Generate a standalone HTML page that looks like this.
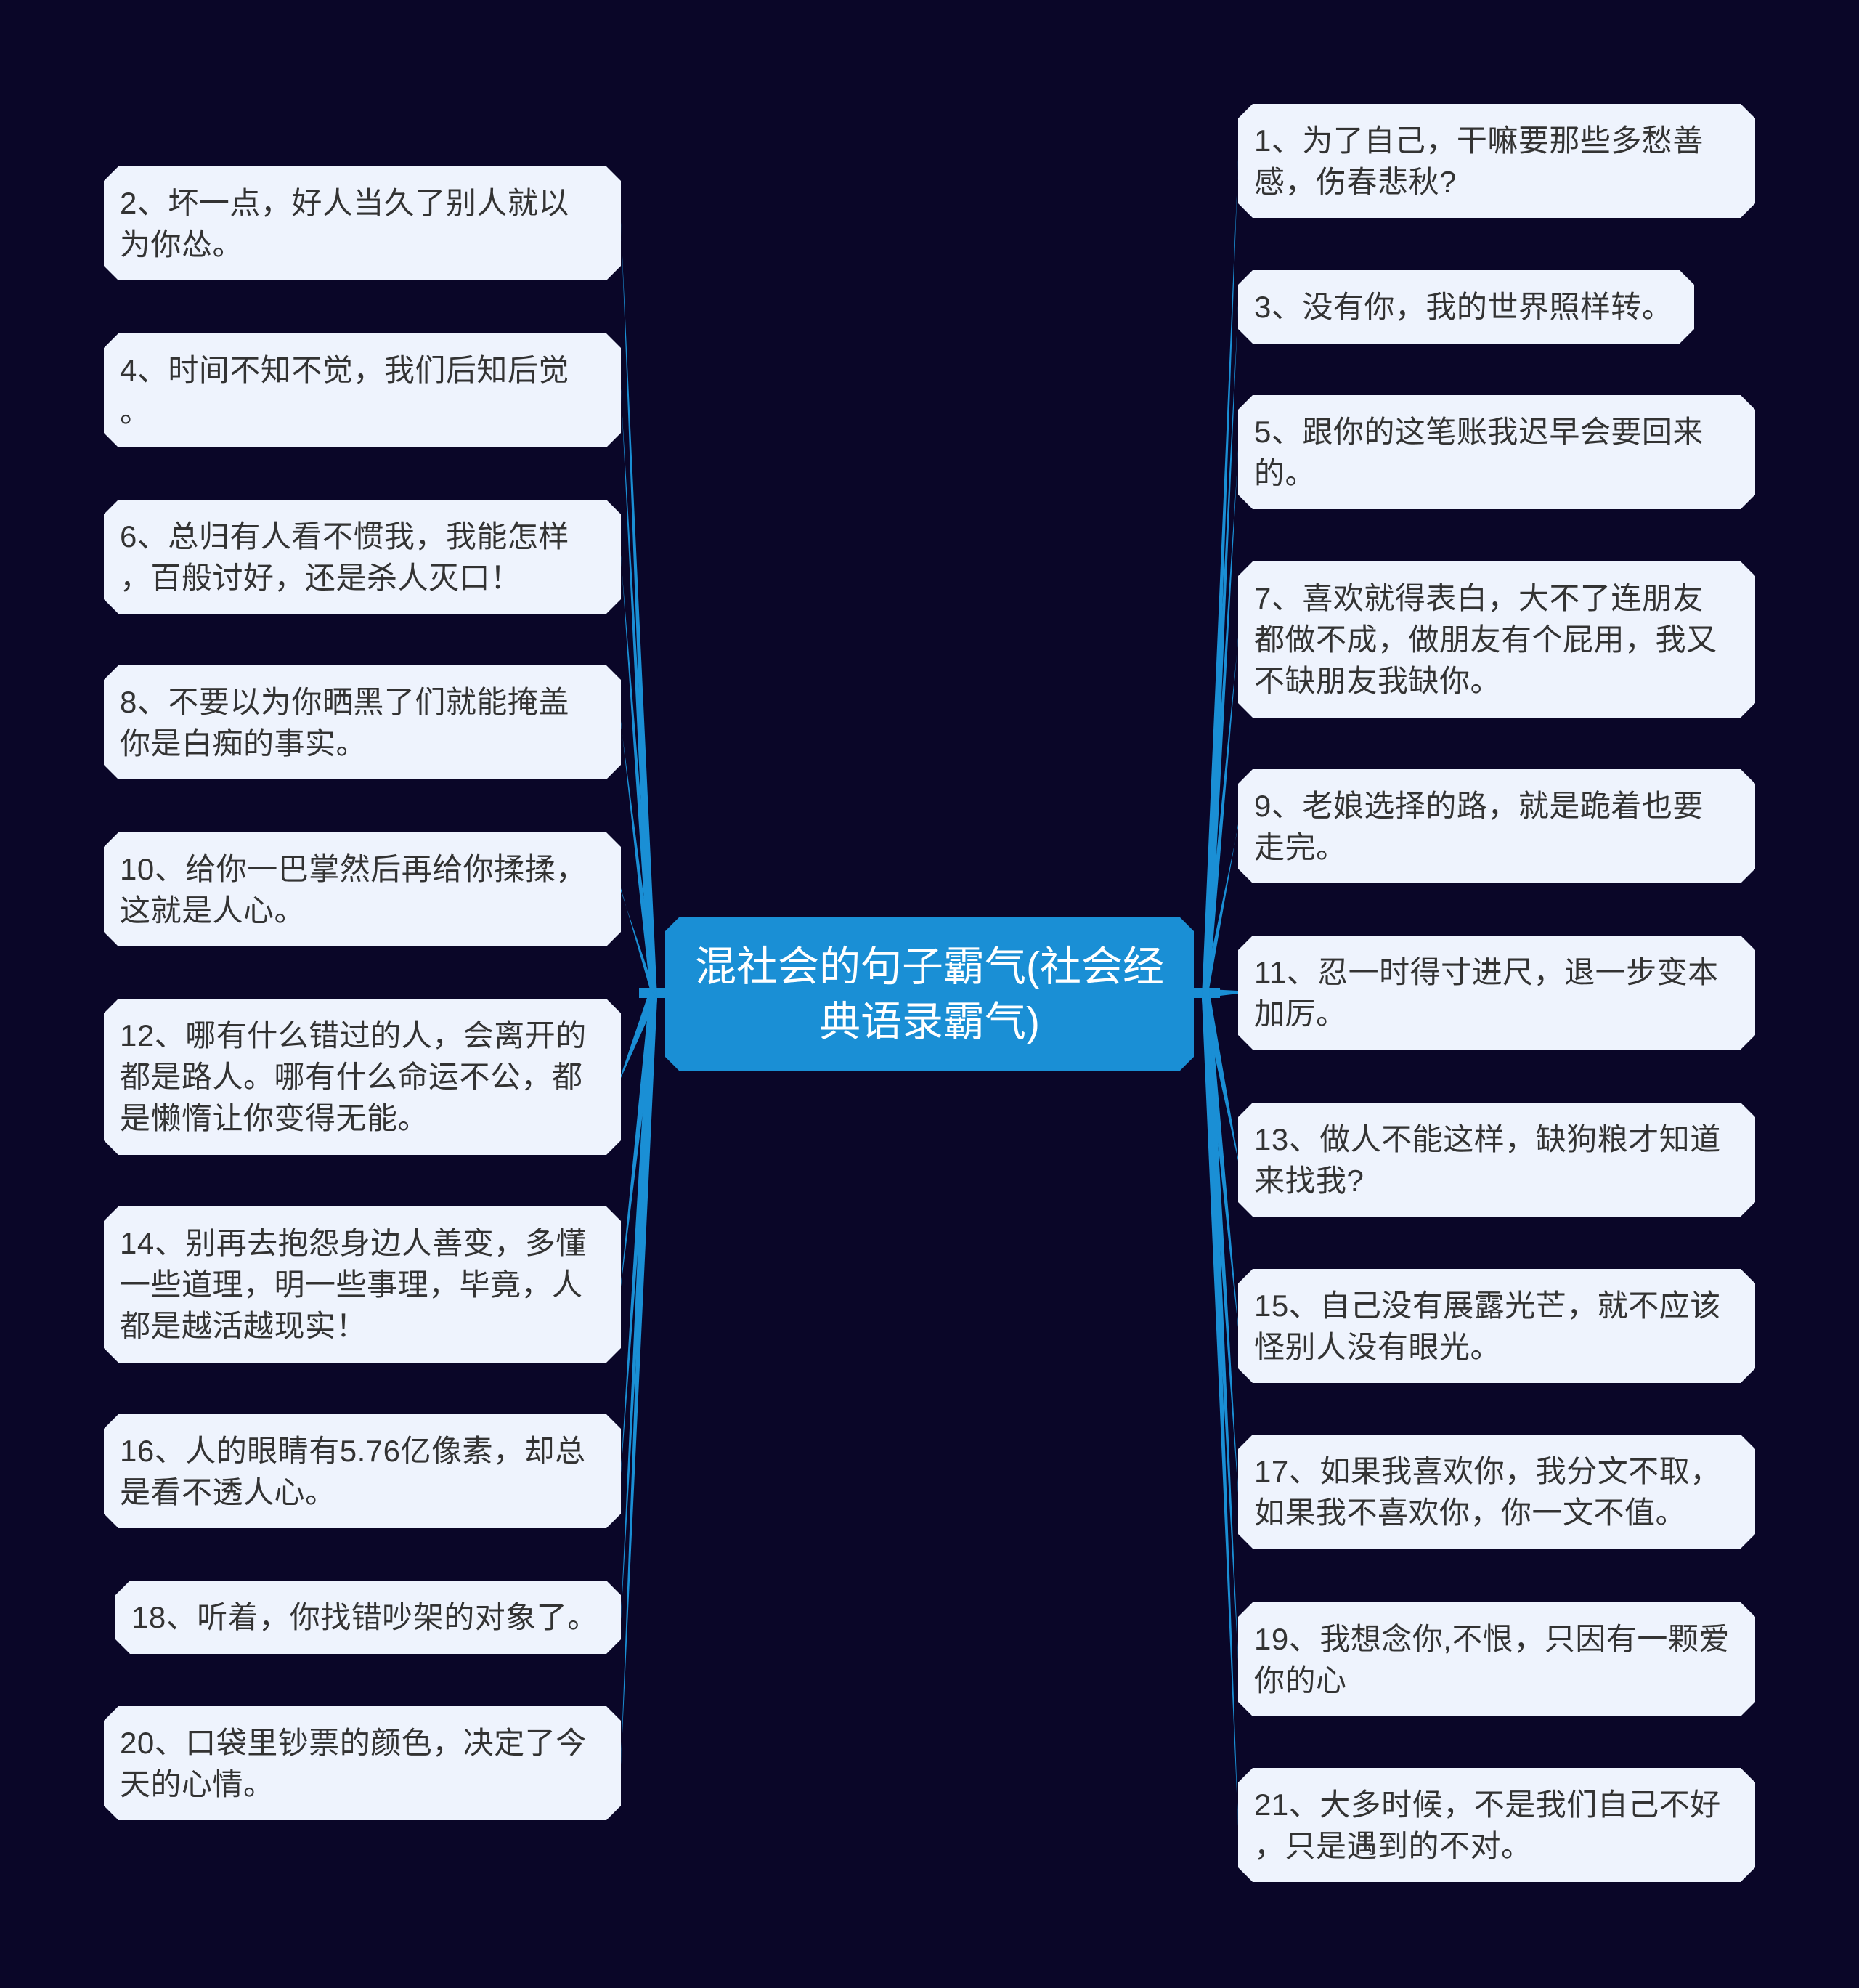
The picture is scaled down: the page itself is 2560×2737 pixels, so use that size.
<!DOCTYPE html>
<html><head><meta charset="utf-8"><style>
body{margin:0;width:2560px;height:2737px;background:#0a0628;position:relative;overflow:hidden;font-family:"Liberation Sans","Noto Sans CJK SC",sans-serif}
.n{position:absolute;background:#eef3fd;color:#333;font-size:42px;letter-spacing:0.5px;line-height:57px;display:flex;align-items:center;padding:0 22px;box-sizing:border-box;clip-path:polygon(20px 0,calc(100% - 20px) 0,100% 20px,100% calc(100% - 20px),calc(100% - 20px) 100%,20px 100%,0 calc(100% - 20px),0 20px)}
.L{left:143px;width:712px}.R{left:1705px;width:712px}
.c{position:absolute;left:916px;top:1262px;width:728px;height:213px;background:#1a8fd5;color:#fff;font-size:57px;line-height:76px;display:flex;align-items:center;justify-content:center;text-align:center;clip-path:polygon(20px 0,calc(100% - 20px) 0,100% 20px,100% calc(100% - 20px),calc(100% - 20px) 100%,20px 100%,0 calc(100% - 20px),0 20px)}
svg{position:absolute;left:0;top:0}
</style></head><body>
<svg width="2560" height="2737"><g fill="#1a8fd5">
<rect x="880" y="1360" width="40" height="14"/><rect x="1640" y="1360" width="40" height="14"/>
<polygon points="895,1362 855,306 855,310 905,1374"/>
<polygon points="895,1362 855,535 855,539 905,1374"/>
<polygon points="895,1362 855,764 855,768 905,1374"/>
<polygon points="895,1362 855,993 855,997 905,1374"/>
<polygon points="895,1362 855,1223 855,1227 905,1374"/>
<polygon points="895,1362 855,1480 855,1484 905,1374"/>
<polygon points="895,1362 855,1767 855,1771 905,1374"/>
<polygon points="895,1362 855,2024 855,2028 905,1374"/>
<polygon points="895,1362 855,2225 855,2229 905,1374"/>
<polygon points="895,1362 855,2425 855,2429 905,1374"/>
<polygon points="1665,1362 1705,219 1705,223 1655,1374"/>
<polygon points="1665,1362 1705,420 1705,424 1655,1374"/>
<polygon points="1665,1362 1705,620 1705,624 1655,1374"/>
<polygon points="1665,1362 1705,878 1705,882 1655,1374"/>
<polygon points="1665,1362 1705,1135 1705,1139 1655,1374"/>
<polygon points="1665,1362 1705,1364 1705,1368 1655,1374"/>
<polygon points="1665,1362 1705,1594 1705,1598 1655,1374"/>
<polygon points="1665,1362 1705,1823 1705,1827 1655,1374"/>
<polygon points="1665,1362 1705,2051 1705,2055 1655,1374"/>
<polygon points="1665,1362 1705,2282 1705,2286 1655,1374"/>
<polygon points="1665,1362 1705,2510 1705,2514 1655,1374"/>
</g></svg>
<div class="c">混社会的句子霸气(社会经<br>典语录霸气)</div>
<div class="n L" style="top:229px;height:157px">2、坏一点，好人当久了别人就以<br>为你怂。</div>
<div class="n L" style="top:459px;height:157px">4、时间不知不觉，我们后知后觉<br>。</div>
<div class="n L" style="top:688px;height:157px">6、总归有人看不惯我，我能怎样<br>，百般讨好，还是杀人灭口！</div>
<div class="n L" style="top:916px;height:157px">8、不要以为你晒黑了们就能掩盖<br>你是白痴的事实。</div>
<div class="n L" style="top:1146px;height:157px">10、给你一巴掌然后再给你揉揉，<br>这就是人心。</div>
<div class="n L" style="top:1375px;height:215px">12、哪有什么错过的人，会离开的<br>都是路人。哪有什么命运不公，都<br>是懒惰让你变得无能。</div>
<div class="n L" style="top:1661px;height:215px">14、别再去抱怨身边人善变，多懂<br>一些道理，明一些事理，毕竟，人<br>都是越活越现实！</div>
<div class="n L" style="top:1947px;height:157px">16、人的眼睛有5.76亿像素，却总<br>是看不透人心。</div>
<div class="n" style="left:159px;width:696px;top:2176px;height:101px">18、听着，你找错吵架的对象了。</div>
<div class="n L" style="top:2349px;height:157px">20、口袋里钞票的颜色，决定了今<br>天的心情。</div>
<div class="n R" style="top:143px;height:157px">1、为了自己，干嘛要那些多愁善<br>感，伤春悲秋?</div>
<div class="n" style="left:1705px;width:628px;top:372px;height:101px">3、没有你，我的世界照样转。</div>
<div class="n R" style="top:544px;height:157px">5、跟你的这笔账我迟早会要回来<br>的。</div>
<div class="n R" style="top:773px;height:215px">7、喜欢就得表白，大不了连朋友<br>都做不成，做朋友有个屁用，我又<br>不缺朋友我缺你。</div>
<div class="n R" style="top:1059px;height:157px">9、老娘选择的路，就是跪着也要<br>走完。</div>
<div class="n R" style="top:1288px;height:157px">11、忍一时得寸进尺，退一步变本<br>加厉。</div>
<div class="n R" style="top:1518px;height:157px">13、做人不能这样，缺狗粮才知道<br>来找我?</div>
<div class="n R" style="top:1747px;height:157px">15、自己没有展露光芒，就不应该<br>怪别人没有眼光。</div>
<div class="n R" style="top:1975px;height:157px">17、如果我喜欢你，我分文不取，<br>如果我不喜欢你，你一文不值。</div>
<div class="n R" style="top:2206px;height:157px">19、我想念你,不恨，只因有一颗爱<br>你的心</div>
<div class="n R" style="top:2434px;height:157px">21、大多时候，不是我们自己不好<br>，只是遇到的不对。</div>
</body></html>
